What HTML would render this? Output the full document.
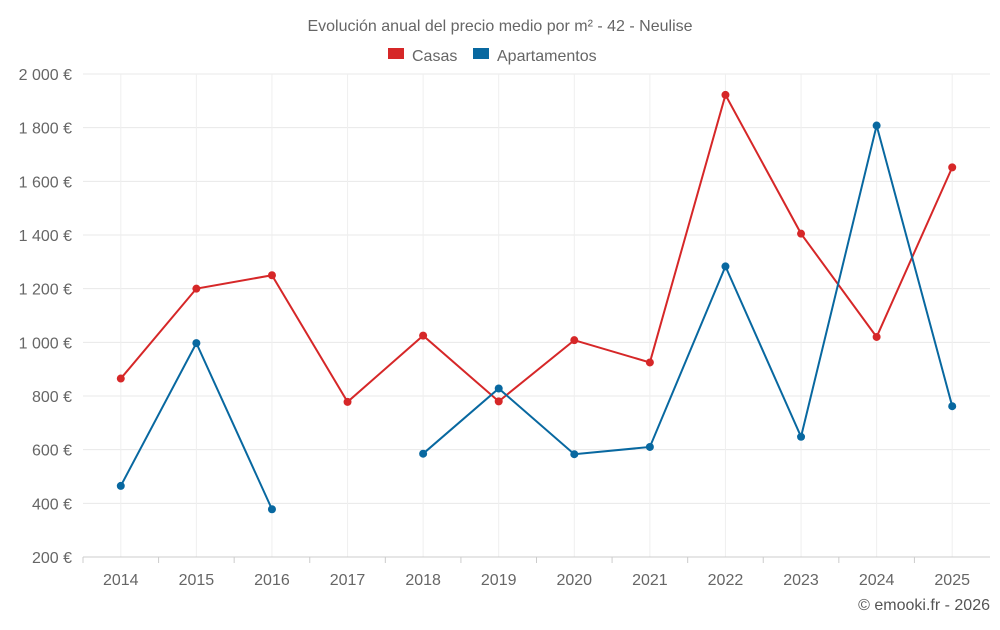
<!DOCTYPE html>
<html><head><meta charset="utf-8"><style>
body{margin:0;background:#fff;font-family:"Liberation Sans",sans-serif}
svg text{font-family:"Liberation Sans",sans-serif}
</style></head><body>
<svg id="c" width="1000" height="625"></svg>
<script>
const years=["2014","2015","2016","2017","2018","2019","2020","2021","2022","2023","2024","2025"];
const casas=[865,1200,1250,778,1025,780,1008,925,1922,1405,1020,1652];
const apartamentos=[465,997,378,null,585,828,583,610,1283,648,1808,762];
const yTicks=[200,400,600,800,1000,1200,1400,1600,1800,2000];
const yTickLabels=["200 €","400 €","600 €","800 €","1 000 €","1 200 €","1 400 €","1 600 €","1 800 €","2 000 €"];
const L=83,R=990,T=74,B=557,ymin=200,ymax=2000;
const svg=document.getElementById('c');const NS='http://www.w3.org/2000/svg';
function y(v){return B-(v-ymin)/(ymax-ymin)*(B-T);}
function x(i){const w=(R-L)/years.length;return L+w*i+w/2;}
function el(t,a,txt){const e=document.createElementNS(NS,t);for(const k in a)e.setAttribute(k,a[k]);if(txt!=null)e.textContent=txt;svg.appendChild(e);return e;}
let e;
e=el('text',{x:500,y:31,'text-anchor':'middle','font-size':16,fill:'#666'},'Evolución anual del precio medio por m² - 42 - Neulise');


e=el('rect',{x:388,y:48,width:16,height:11,fill:'#d62728'});


e=el('text',{x:412,y:61,'font-size':16,fill:'#666'},'Casas');


e=el('rect',{x:473,y:48,width:16,height:11,fill:'#0868a0'});


e=el('text',{x:497,y:61,'font-size':16,fill:'#666'},'Apartamentos');


yTicks.forEach((v,i)=>{
 e=el('line',{x1:L,x2:R,y1:y(v),y2:y(v),stroke:'#e8e8e8'});
 
 
 e=el('text',{x:72,y:y(v)+6,'text-anchor':'end','font-size':16,fill:'#666'},yTickLabels[i]);
 
 
});
const w=(R-L)/years.length;
years.forEach((yr,i)=>{
 e=el('line',{x1:x(i),x2:x(i),y1:T,y2:B,stroke:'#efefef'});
 
 
 e=el('line',{x1:L+w*i,x2:L+w*i,y1:B,y2:B+6,stroke:'#ccc'});
 
 
 e=el('text',{x:x(i),y:585,'text-anchor':'middle','font-size':16,fill:'#666'},yr);
 
 
});
e=el('line',{x1:L,x2:R,y1:B,y2:B,stroke:'#ccc'});


function series(data,color,name){
 let d='',pen=false;
 data.forEach((v,i)=>{if(v==null){pen=false;return;}d+=(pen?'L':'M')+x(i)+' '+y(v)+' ';pen=true;});
 e=el('path',{d:d,fill:'none',stroke:color,'stroke-width':2});
 
 
 data.forEach((v,i)=>{if(v==null)return;
  e=el('circle',{cx:x(i),cy:y(v),r:4,fill:color});
  
  
 });
}
series(casas,'#d62728','casas');
series(apartamentos,'#0868a0','apartamentos');
e=el('text',{x:990,y:610,'text-anchor':'end','font-size':16,fill:'#555'},'© emooki.fr - 2026');


</script>
</body></html>
